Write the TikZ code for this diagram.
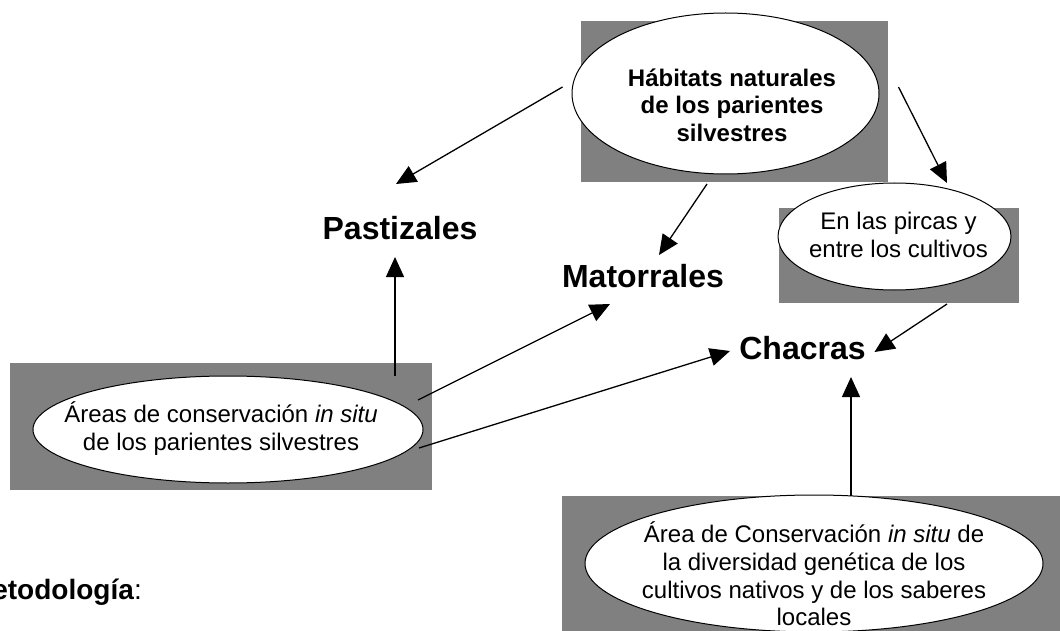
\documentclass[tikz,border=0pt]{standalone}
\usepackage{fontspec}
\setmainfont{Liberation Sans}
\usepackage{tikz}
\usetikzlibrary{
  shapes.geometric
  , calc
  , arrows.meta
}

\begin{document}
\begin{tikzpicture}[x=1pt, y=-1pt]
      \tikzstyle{bubble template}=[ellipse,draw=black,line width=1pt,fill=white,inner sep=0pt];
      \tikzstyle{bubble text}=[align=center,inner sep=0pt,font=\fontsize{24}{27.6}\selectfont];
      \tikzstyle{place label}=[inner sep=0pt,font=\fontsize{32}{38}\selectfont\bfseries];
      \tikzstyle{link}=[-{Triangle[length=20pt,width=18pt]},line width=1.3pt];

      \useasboundingbox (0,0) rectangle (1060,631);

      % gray backgrounds
      \fill [gray] (581,21) rectangle (888,182);
      \fill [gray] (779,208) rectangle (1019,303);
      \fill [gray] (10,363) rectangle (432,490);
      \fill [gray] (562,496) rectangle (1062,640);

      % ellipses
      \node [bubble template, minimum width=307, minimum height=161] (hab) at (725.5,93.5) {};
      \node [bubble text, font=\fontsize{24}{27.6}\selectfont\bfseries] (habtext) at (732,105)
        {Hábitats naturales\\de los parientes\\silvestres};

      \node [bubble template, minimum width=233, minimum height=107] (pir) at (894.5,236.5) {};
      \node [bubble text] (pirtext) at (898.5,235) {En las pircas y\\entre los cultivos};

      \node [bubble template, minimum width=390, minimum height=107] (areas) at (228,429.5) {};
      \node [bubble text] (areastext) at (221,428.5)
        {Áreas de conservación \textit{in situ}\\de los parientes silvestres};

      \node [bubble template, minimum width=458, minimum height=137] (cons) at (814,563.5) {};
      \node [bubble text] (constext) at (814,574)
        {Área de Conservación \textit{in situ} de\\la diversidad genética de los\\cultivos nativos y de los saberes\\locales};

      % places
      \node [place label] (past) at (400,228) {Pastizales};
      \node [place label] (mat) at (643,276) {Matorrales};
      \node [place label] (chac) at (802.5,348) {Chacras};

      \node [inner sep=0pt, anchor=base east, font=\fontsize{28}{32}\selectfont] (met) at (142,599)
        {\textbf{etodología}:};

      % arrows
      \draw [link] ($ (hab.west) + (-9,-6.5) $) -- ($ (past) + (-4,-44) $);
      \draw [link] ($ (hab) + (-18.5,90.5) $) -- ($ (mat) + (16,-21) $);
      \draw [link] ($ (hab.east) + (19,-6.5) $) -- ($ (pir) + (52.5,-53.5) $);
      \draw [link] ($ (pir) + (52.5,67.5) $) -- ($ (chac) + (72,4) $);
      \draw [link] ($ (areas.north) + (167,0) $) -- ($ (past) + (-5,29) $);
      \draw [link] ($ (areas) + (190,-29.5) $) -- ($ (mat) + (-33,28) $);
      \draw [link] ($ (areas) + (191,18.5) $) -- ($ (chac) + (-72.5,3) $);
      \draw [link] ($ (cons) + (37,-67.5) $) -- ($ (chac) + (48.5,29) $);

\end{tikzpicture}
\end{document}
